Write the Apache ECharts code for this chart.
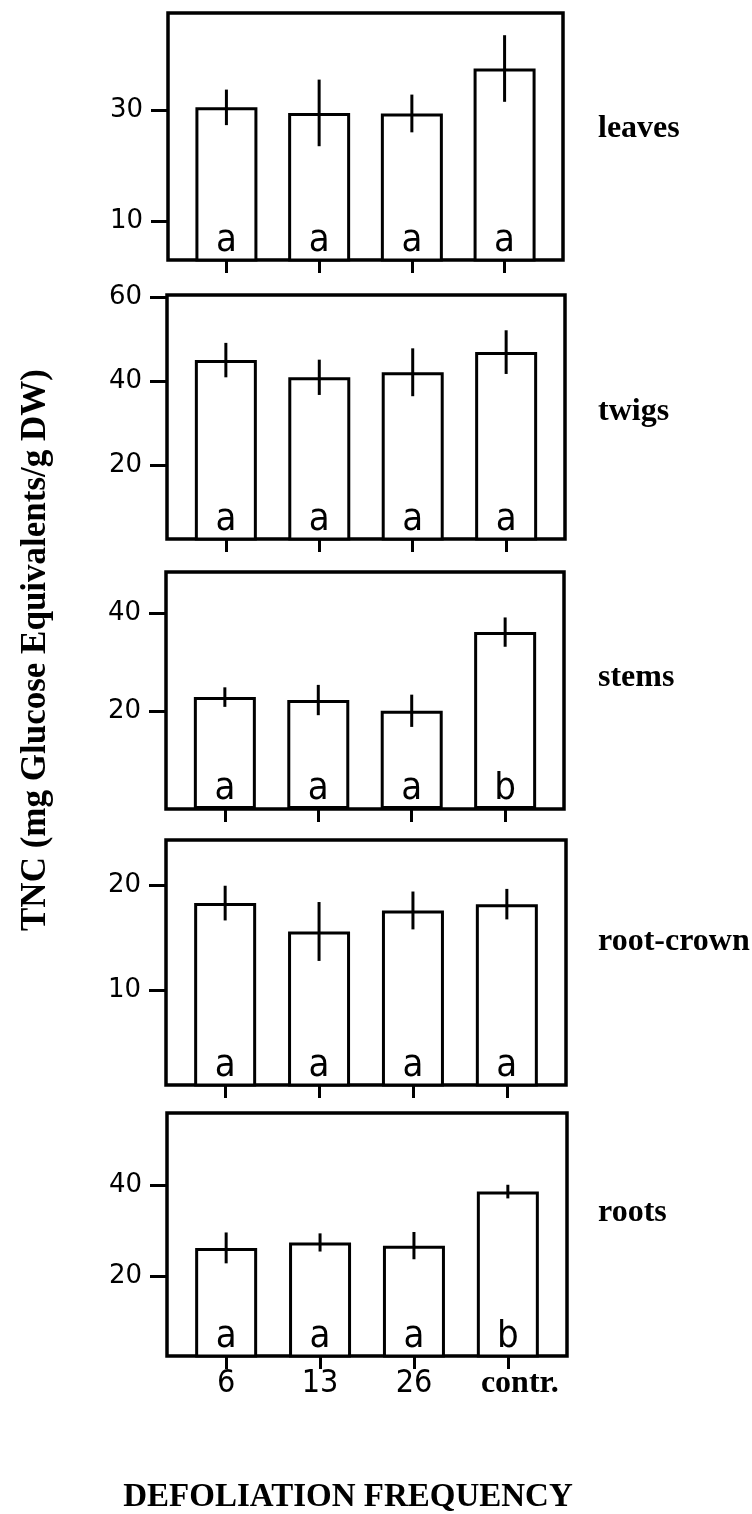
<!DOCTYPE html>
<html>
<head>
<meta charset="utf-8">
<script src="https://cdn.jsdelivr.net/npm/echarts@6/dist/echarts.min.js"></script>
<style>
  html, body { margin: 0; padding: 0; background: #fff; }
  #chart { width: 752px; height: 1514px; }
</style>
</head>
<body>
<div id="chart"></div>
<script>
// Defoliation frequency treatments (x categories)
const categories = ['6', '13', '26', 'contr.'];

// Plant parts, one panel each
const panelNames = ['leaves', 'twigs', 'stems', 'root-crown', 'roots'];

// Mean TNC (mg glucose equivalents / g DW) per treatment
const leavesMeans = [30.5, 29.5, 29.4, 37.5];
const twigsMeans = [45.0, 40.9, 42.1, 46.9];
const stemsMeans = [22.9, 22.3, 20.1, 36.2];
const rootCrownMeans = [18.3, 15.6, 17.6, 18.2];
const rootsMeans = [26.3, 27.5, 26.8, 38.7];

// Error bar half-lengths
const leavesErr = [3.2, 6.0, 3.4, 6.0];
const twigsErr = [4.1, 4.2, 5.7, 5.2];
const stemsErr = [2.0, 3.1, 3.3, 3.0];
const rootCrownErr = [1.65, 2.8, 1.8, 1.45];
const rootsErr = [3.4, 2.0, 3.0, 1.5];

// Significance letters
const leavesLetters = ['a', 'a', 'a', 'a'];
const twigsLetters = ['a', 'a', 'a', 'a'];
const stemsLetters = ['a', 'a', 'a', 'b'];
const rootCrownLetters = ['a', 'a', 'a', 'a'];
const rootsLetters = ['a', 'a', 'a', 'b'];

// Y tick labels per panel
const leavesTicks = [10, 30];
const twigsTicks = [20, 40, 60];
const stemsTicks = [20, 40];
const rootCrownTicks = [10, 20];
const rootsTicks = [20, 40];

// Y axis extents per panel
const leavesRange = [3, 47.5];
const twigsRange = [2.4, 60.5];
const stemsRange = [0, 48.5];
const rootCrownRange = [1, 24.3];
const rootsRange = [2.5, 56];

const panels = [
  { means: leavesMeans, err: leavesErr, letters: leavesLetters, ticks: leavesTicks, range: leavesRange },
  { means: twigsMeans, err: twigsErr, letters: twigsLetters, ticks: twigsTicks, range: twigsRange },
  { means: stemsMeans, err: stemsErr, letters: stemsLetters, ticks: stemsTicks, range: stemsRange },
  { means: rootCrownMeans, err: rootCrownErr, letters: rootCrownLetters, ticks: rootCrownTicks, range: rootCrownRange },
  { means: rootsMeans, err: rootsErr, letters: rootsLetters, ticks: rootsTicks, range: rootsRange }
];

// Panel frames (layout)
const frames = [
  { left: 168, top: 13, width: 395, height: 247 },
  { left: 167, top: 295, width: 398, height: 244 },
  { left: 166, top: 572, width: 398, height: 237 },
  { left: 166, top: 840, width: 400, height: 245 },
  { left: 167, top: 1113, width: 400, height: 243 }
];
const nameMiddleY = [129, 412, 678, 942, 1213];

const serifBold = "bold 32px 'Liberation Serif', 'Times New Roman', serif";
const narrow = "'Liberation Sans Narrow', 'DejaVu Sans Condensed', 'Arial Narrow', sans-serif";

const grid = [], xAxis = [], yAxis = [], series = [], graphic = [];
const catIdx = categories.map((c, i) => i);
const last = panels.length - 1;

panels.forEach((p, k) => {
  grid.push(Object.assign({
    show: true, borderColor: '#000', borderWidth: 3.5, backgroundColor: 'transparent'
  }, frames[k]));

  xAxis.push({
    gridIndex: k, type: 'value', min: -0.63, max: 3.63, position: 'bottom',
    splitLine: { show: false },
    axisLine: { show: false, onZero: false },
    axisTick: { show: true, customValues: catIdx, length: 13, inside: false,
                lineStyle: { color: '#000', width: 3 } },
    axisLabel: k === last ? {
      show: true, customValues: catIdx, margin: 12,
      formatter: v => v === 3 ? '{b|' + categories[v] + '}' : categories[v],
      color: '#000', fontFamily: narrow, fontSize: 32,
      rich: { b: { fontFamily: "'Liberation Serif', 'Times New Roman', serif", fontWeight: 'bold',
                   fontSize: 32, color: '#000', padding: [0, 0, 0, 24] } }
    } : { show: false }
  });

  yAxis.push({
    gridIndex: k, type: 'value', min: p.range[0], max: p.range[1], position: 'left',
    splitLine: { show: false },
    axisLine: { show: false, onZero: false },
    axisTick: { show: true, customValues: p.ticks, length: 17, inside: false,
                lineStyle: { color: '#000', width: 3 } },
    axisLabel: { show: true, customValues: p.ticks, margin: 25, color: '#000',
                 fontFamily: "'DejaVu Sans', sans-serif", fontSize: 26 }
  });

  series.push({
    type: 'bar', xAxisIndex: k, yAxisIndex: k, barWidth: 62,
    data: p.means.map((m, i) => [i, m]),
    itemStyle: { color: '#fff', borderColor: '#000', borderWidth: 3 },
    label: {
      show: true, position: 'insideBottom', distance: 3,
      formatter: prm => p.letters[prm.dataIndex],
      fontFamily: narrow, fontSize: 38, color: '#000', lineHeight: 34
    },
    silent: true, animation: false
  });

  series.push({
    type: 'custom', xAxisIndex: k, yAxisIndex: k,
    data: p.means.map((m, i) => [i, m - p.err[i], m + p.err[i]]),
    encode: { x: 0, y: [1, 2] },
    renderItem: (params, api) => {
      const a = api.coord([api.value(0), api.value(1)]);
      const b = api.coord([api.value(0), api.value(2)]);
      return { type: 'line', shape: { x1: a[0], y1: a[1], x2: b[0], y2: b[1] },
               style: { stroke: '#000', lineWidth: 3 } };
    },
    z: 5, silent: true, animation: false
  });

  graphic.push({
    type: 'text', x: 598, y: nameMiddleY[k],
    style: { text: panelNames[k], font: serifBold, fill: '#000',
             textAlign: 'left', textVerticalAlign: 'middle', verticalAlign: 'middle' }
  });
});

// Shared axis titles
graphic.push({
  type: 'text', x: 36, y: 650, rotation: Math.PI / 2,
  style: { text: 'TNC (mg Glucose Equivalents/g DW)',
           font: "bold 35px 'Liberation Serif', 'Times New Roman', serif", fill: '#000',
           textAlign: 'center', textVerticalAlign: 'middle', verticalAlign: 'middle' }
});
graphic.push({
  type: 'text', x: 348, y: 1497,
  style: { text: 'DEFOLIATION FREQUENCY',
           font: "bold 33px 'Liberation Serif', 'Times New Roman', serif", fill: '#000',
           textAlign: 'center', textVerticalAlign: 'middle', verticalAlign: 'middle' }
});

const chart = echarts.init(document.getElementById('chart'), null, { renderer: 'canvas' });
chart.setOption({
  backgroundColor: '#fff',
  animation: false,
  grid, xAxis, yAxis, series, graphic
});
</script>
</body>
</html>
